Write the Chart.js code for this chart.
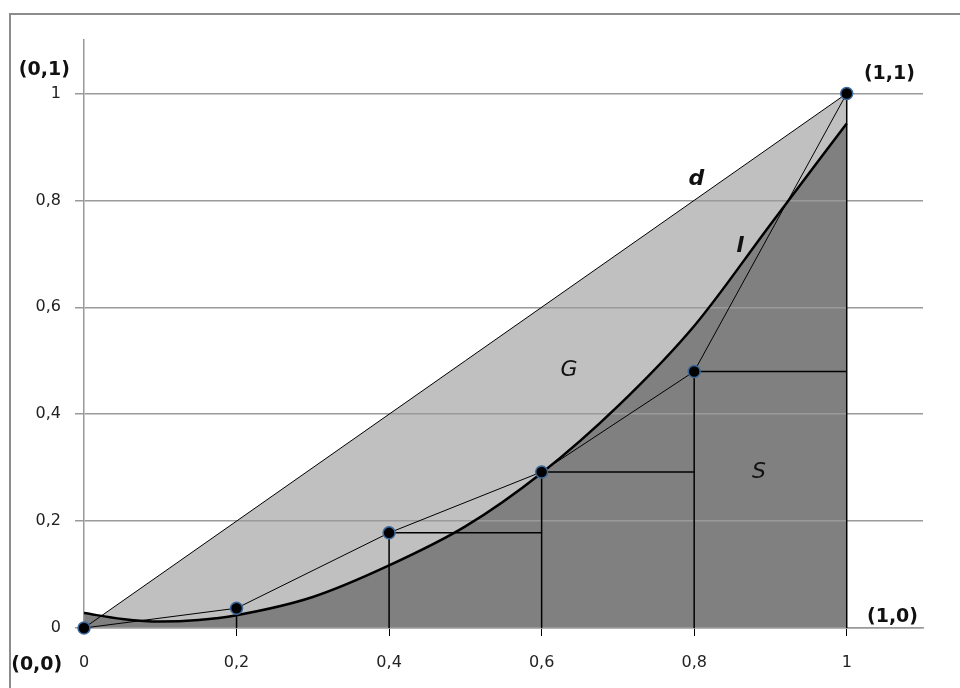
<!DOCTYPE html>
<html>
<head>
<meta charset="utf-8">
<title>Lorenz</title>
<style>
  * { margin: 0; padding: 0; box-sizing: border-box; }
  body { background: #fff; }
  #box { width: 960px; height: 688px; }
</style>
</head>
<body>
<div id="box"><canvas id="myChart" width="960" height="688"></canvas></div>
<script src="https://cdn.jsdelivr.net/npm/chart.js"></script>
<script>
  // data
  const lorenzX = [0, 0.2, 0.4, 0.6, 0.8, 1];
  const lorenzY = [0, 0.037, 0.178, 0.292, 0.48, 1];
  const curveX = [0, 0.05, 0.1, 0.15, 0.2, 0.3, 0.4, 0.5, 0.6, 0.7, 0.8, 0.9, 1];
  const curveY = [0.028, 0.017, 0.012, 0.015, 0.024, 0.058, 0.117, 0.19, 0.29, 0.415, 0.565, 0.755, 0.944];
  const diagX = [0, 1];
  const diagY = [0, 1];
  const tickVals = [0, 0.2, 0.4, 0.6, 0.8, 1];

  // text labels put on the chart (data coordinates)
  const notes = [
    { text: "(0,1)", x: -0.052, y: 1.043, font: "bold 19px 'DejaVu Sans'" },
    { text: "(1,1)", x: 1.056, y: 1.037, font: "bold 19px 'DejaVu Sans'" },
    { text: "(1,0)", x: 1.06, y: 0.02, font: "bold 19px 'DejaVu Sans'" },
    { text: "(0,0)", x: -0.062, y: -0.07, font: "bold 19px 'DejaVu Sans'" },
    { text: "d", x: 0.803, y: 0.84, font: "italic bold 22px 'DejaVu Sans'" },
    { text: "l", x: 0.86, y: 0.715, font: "italic bold 22px 'DejaVu Sans'" },
    { text: "G", x: 0.636, y: 0.482, font: "italic 22px 'DejaVu Sans'" },
    { text: "S", x: 0.885, y: 0.291, font: "italic 22px 'DejaVu Sans'" }
  ];

  const pts = (xs, ys) => xs.map((x, i) => ({ x: x, y: ys[i] }));

  // vertical lines from the axis up to each point, and the steps to the next x
  const steps = [];
  for (let i = 1; i < lorenzX.length; i++) {
    steps.push({ x: lorenzX[i], y: 0 }, { x: lorenzX[i], y: lorenzY[i] }, { x: lorenzX[i], y: null });
  }
  for (let i = 2; i < lorenzX.length - 1; i++) {
    steps.push({ x: lorenzX[i], y: lorenzY[i] }, { x: lorenzX[i + 1], y: lorenzY[i] }, { x: lorenzX[i + 1], y: null });
  }

  const frame = {
    id: 'frame',
    afterDraw(chart) {
      const c = chart.ctx;
      c.save();
      c.strokeStyle = '#8c8c8c';
      c.lineWidth = 2;
      c.strokeRect(10, 14, 980, 720);
      c.restore();
    }
  };

  const labels = {
    id: 'labels',
    afterDatasetsDraw(chart) {
      const c = chart.ctx;
      const xs = chart.scales.x, ys = chart.scales.y;
      c.save();
      c.fillStyle = '#111';
      c.textAlign = 'center';
      c.textBaseline = 'middle';
      notes.forEach(n => {
        c.font = n.font;
        c.fillText(n.text, xs.getPixelForValue(n.x), ys.getPixelForValue(n.y));
      });
      c.restore();
    }
  };

  new Chart(document.getElementById('myChart'), {
    type: 'line',
    data: {
      datasets: [
        {
          label: 'Lorenz',
          data: pts(lorenzX, lorenzY),
          borderColor: '#000',
          borderWidth: 1,
          pointRadius: 6,
          pointBackgroundColor: '#000',
          pointBorderColor: '#3d6a9e',
          pointBorderWidth: 1.5,
          fill: false,
          clip: false,
          order: 0
        },
        {
          label: 'steps',
          data: steps,
          borderColor: '#000',
          borderWidth: 1.5,
          pointRadius: 0,
          spanGaps: false,
          fill: false,
          order: 1
        },
        {
          label: 'l',
          data: pts(curveX, curveY),
          borderColor: '#000',
          borderWidth: 2.5,
          pointRadius: 0,
          cubicInterpolationMode: 'monotone',
          backgroundColor: '#808080',
          fill: 'origin',
          order: 2
        },
        {
          label: 'd',
          data: pts(diagX, diagY),
          borderColor: '#000',
          borderWidth: 1,
          pointRadius: 0,
          backgroundColor: '#c0c0c0',
          fill: 'origin',
          order: 3
        }
      ]
    },
    options: {
      responsive: false,
      animation: false,
      layout: { padding: { left: 0, right: 37, top: 40, bottom: 0 } },
      scales: {
        x: {
          type: 'linear',
          min: 0,
          max: 1.1,
          afterBuildTicks: s => { s.ticks = tickVals.map(v => ({ value: v })); },
          afterFit: s => { s.height = 60; },
          grid: {
            drawOnChartArea: false,
            tickLength: 8,
            color: ctx => (ctx.tick && ctx.tick.value > 0) ? '#000' : 'transparent'
          },
          border: { color: '#999', width: 1.5 },
          ticks: {
            padding: 17,
            color: '#222',
            font: { family: 'DejaVu Sans', size: 16 },
            callback: v => String(v).replace('.', ',')
          }
        },
        y: {
          min: 0,
          max: 1.1,
          afterBuildTicks: s => { s.ticks = tickVals.map(v => ({ value: v })); },
          afterFit: s => { s.width = 84; },
          grid: { color: '#9a9a9a', lineWidth: 1.5, tickLength: 9 },
          border: { color: '#999', width: 1.5 },
          ticks: {
            padding: 14,
            color: '#222',
            font: { family: 'DejaVu Sans', size: 16 },
            callback: v => String(v).replace('.', ',')
          }
        }
      },
      plugins: {
        legend: { display: false },
        tooltip: { enabled: false },
        filler: { drawTime: 'beforeDraw' }
      }
    },
    plugins: [frame, labels]
  });
</script>
</body>
</html>
